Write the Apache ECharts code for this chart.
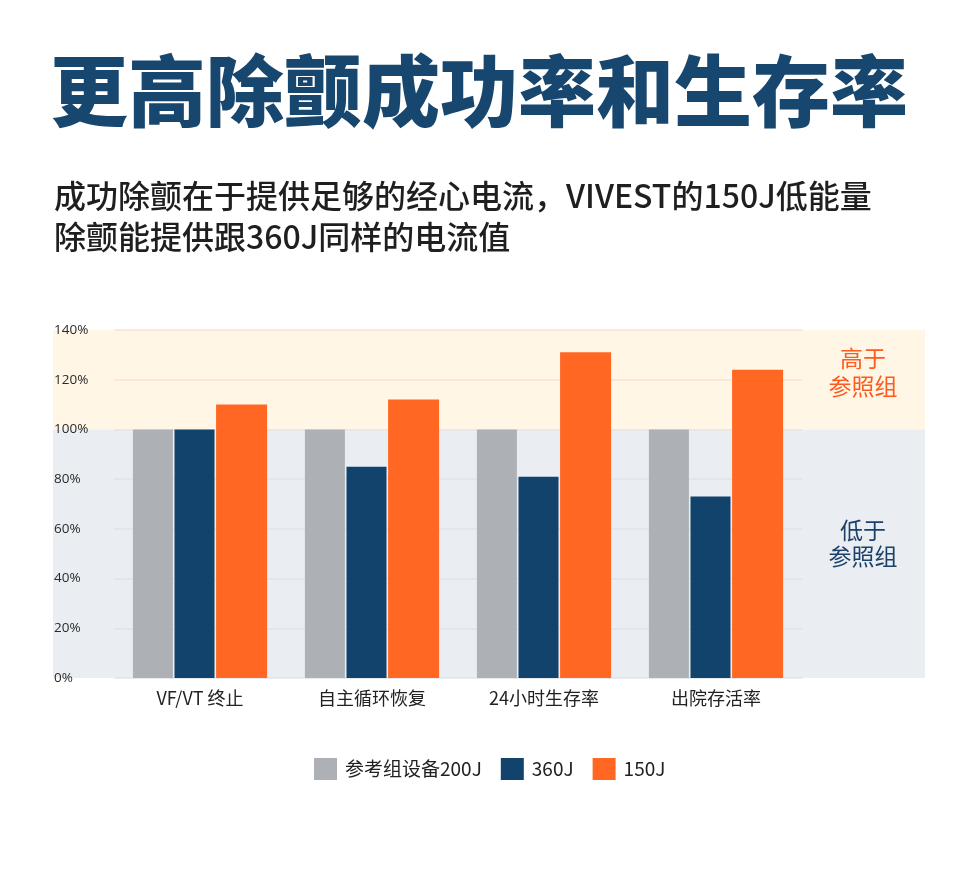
<!DOCTYPE html>
<html>
<head>
<meta charset="utf-8">
<script src="https://cdn.jsdelivr.net/npm/echarts@6/dist/echarts.min.js"></script>
<style>
html,body{margin:0;padding:0;background:#fff;}
#c{width:980px;height:873px;}
</style>
</head>
<body>
<div id="c"></div>
<script>
const categories = ['VF/VT 终止', '自主循环恢复', '24小时生存率', '出院存活率'];
const seriesNames = ['参考组设备200J', '360J', '150J'];
const refValues = [100, 100, 100, 100];
const v360Values = [100, 85, 81, 73];
const v150Values = [110, 112, 131, 124];
const yTicks = [0, 20, 40, 60, 80, 100, 120, 140];
const bands = [
  { from: 100, to: 140, label: '高于\n参照组' },
  { from: 0, to: 100, label: '低于\n参照组' }
];

const FONT = '"Noto Sans CJK SC", "Noto Sans", sans-serif';
const chart = echarts.init(document.getElementById('c'), null, { renderer: 'canvas' });

const yMin = yTicks[0], yMax = yTicks[yTicks.length - 1], yStep = yTicks[1] - yTicks[0];

chart.setOption({
  backgroundColor: '#ffffff',
  animation: false,
  graphic: [
    { type: 'text', z: 100, left: 50, top: 52, style: { text: '更高除颤成功率和生存率', font: '900 78px ' + FONT, fill: '#17466F' } },
    { type: 'text', z: 100, left: 54, top: 180, style: { text: '成功除颤在于提供足够的经心电流，VIVEST的150J低能量', font: '500 32px ' + FONT, fill: '#1f1f1f' } },
    { type: 'text', z: 100, left: 54, top: 221, style: { text: '除颤能提供跟360J同样的电流值', font: '500 32px ' + FONT, fill: '#1f1f1f' } },
    { type: 'text', z: 100, x: 863, y: 372, style: { text: bands[0].label, font: '23px ' + FONT, fill: '#FF5A1F', align: 'center', verticalAlign: 'middle', lineHeight: 28 } },
    { type: 'text', z: 100, x: 863, y: 543, style: { text: bands[1].label, font: '23px ' + FONT, fill: '#1B416A', align: 'center', verticalAlign: 'middle', lineHeight: 26 } }
  ],
  legend: {
    left: 309, top: 753,
    icon: 'rect', itemWidth: 23, itemHeight: 22, itemGap: 19,
    data: seriesNames,
    textStyle: { fontFamily: FONT, fontSize: 19, color: '#222', padding: [0, 0, 0, 3] }
  },
  grid: [
    { left: 53, right: 55, top: 330, bottom: 195 },
    { left: 114, right: 178, top: 330, bottom: 195 }
  ],
  xAxis: [
    { gridIndex: 0, type: 'value', show: false, min: 0, max: 1 },
    { gridIndex: 1, type: 'category', data: categories,
      axisLine: { show: false }, axisTick: { show: false },
      axisLabel: { margin: 11, fontFamily: FONT, fontSize: 18, color: '#222' } }
  ],
  yAxis: [
    { gridIndex: 0, type: 'value', show: false, min: yMin, max: yMax },
    { gridIndex: 1, type: 'value', min: yMin, max: yMax, interval: yStep, z: 5,
      axisLine: { show: false }, axisTick: { show: false },
      axisLabel: { formatter: '{value}%', align: 'left', margin: 60, fontFamily: '"Open Sans", "Noto Sans", sans-serif', fontSize: 13.5, color: '#2a2a2a' },
      splitLine: { show: true, lineStyle: { width: 1.5, color: ['#dfe3ea', '#dfe3ea', '#dfe3ea', '#dfe3ea', '#dfe3ea', '#e9e3e3', '#f8e0da', '#f8e0da'] } } }
  ],
  series: [
    { type: 'bar', xAxisIndex: 0, yAxisIndex: 0, data: [], silent: true, z: -10,
      markArea: { silent: true, z: -10, data: [
        [{ yAxis: bands[0].from, itemStyle: { color: '#FFF6E6' } }, { yAxis: bands[0].to }],
        [{ yAxis: bands[1].from, itemStyle: { color: '#EAEEF3' } }, { yAxis: bands[1].to }]
      ] } },
    { name: seriesNames[0], type: 'bar', xAxisIndex: 1, yAxisIndex: 1, z: 10, data: refValues, barWidth: 40, barGap: '4%', itemStyle: { color: '#ADB1B5' } },
    { name: seriesNames[1], type: 'bar', xAxisIndex: 1, yAxisIndex: 1, z: 10, data: v360Values, barWidth: 40, barGap: '4%', itemStyle: { color: '#11436D' } },
    { name: seriesNames[2], type: 'bar', xAxisIndex: 1, yAxisIndex: 1, z: 10, data: v150Values, barWidth: 51, barGap: '4%', itemStyle: { color: '#FF6723' } }
  ]
});
</script>
</body>
</html>
